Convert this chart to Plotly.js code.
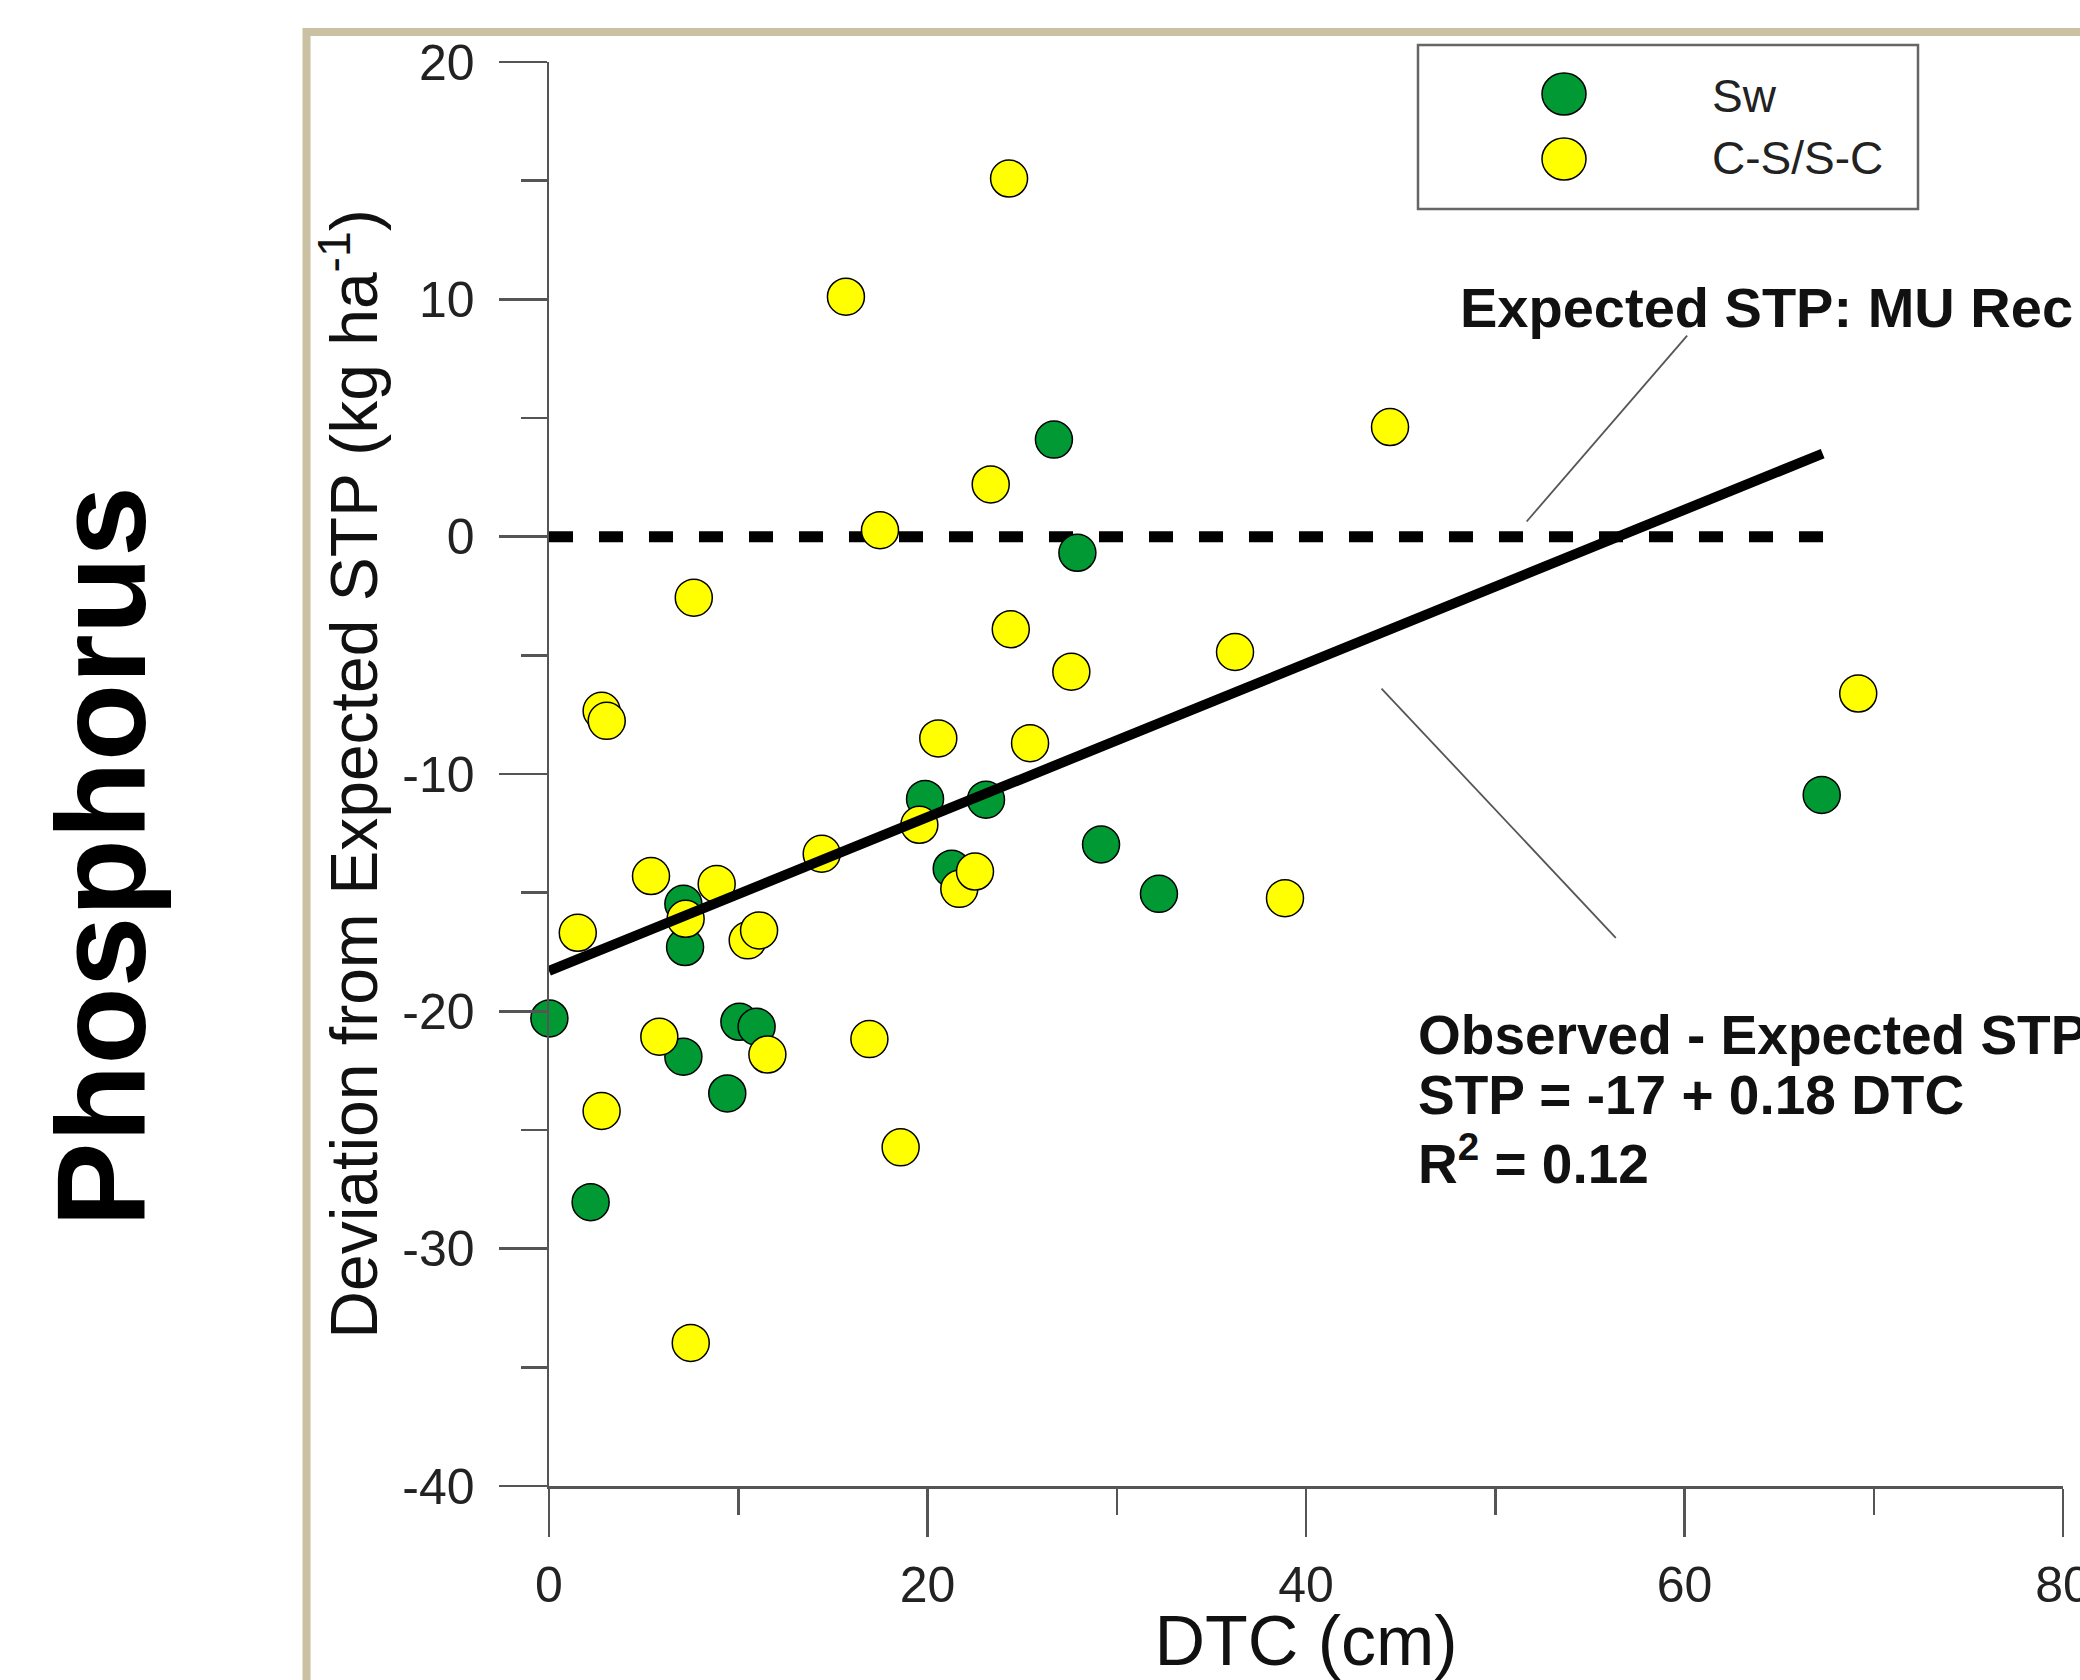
<!DOCTYPE html>
<html>
<head>
<meta charset="utf-8">
<script src="https://cdn.plot.ly/plotly-3.0.1.min.js"></script>
<style>
html,body{margin:0;padding:0;background:#ffffff;}
#chart{width:2080px;height:1680px;}
</style>
</head>
<body>
<div id="chart"></div>
<script>
// ---- data ----
const seriesNames = ['Sw', 'C-S/S-C'];

const swDTC = [0.02, 2.20, 7.10, 7.19, 7.10, 9.42, 10.06, 10.97, 19.87, 21.28, 23.09, 26.68, 27.92, 29.17, 32.23, 67.25];
const swDev = [-20.30, -28.04, -15.47, -17.29, -21.91, -23.46, -20.44, -20.65, -11.05, -13.99, -11.08, 4.09, -0.68, -12.97, -15.05, -10.88];

const csDTC = [1.52, 2.78, 3.05, 2.78, 5.39, 5.83, 7.22, 7.65, 7.49, 8.86, 10.50, 11.10, 11.54, 14.41, 15.69, 16.93, 17.49, 18.58, 19.57, 20.57, 21.68, 22.51, 23.34, 24.31, 24.40, 25.42, 27.60, 36.25, 38.89, 44.44, 69.18];
const csDev = [-16.69, -7.34, -7.76, -24.20, -14.30, -21.07, -16.10, -2.57, -33.97, -14.63, -17.01, -16.59, -21.82, -13.36, 10.11, -21.17, 0.27, -25.73, -12.14, -8.50, -14.84, -14.11, 2.20, 15.09, -3.90, -8.70, -5.69, -4.86, -15.23, 4.62, -6.61];

const fitDTC = [0, 67.3];
const fitDev = [-18.3, 3.5];

const expectedDTC = [0, 67.5];
const expectedDev = [0, 0];

const xTickVals = [0, 20, 40, 60, 80];
const xTickText = ['0', '20', '40', '60', '80'];
const yTickVals = [-40, -30, -20, -10, 0, 10, 20];
const yTickText = ['-40', '-30', '-20', '-10', '0', '10', '20'];

// ---- styling ----
const FONT = 'Liberation Sans, Arial, Helvetica, sans-serif';
const GREEN = '#009933';
const YELLOW = '#ffff00';
const AXIS = '#555555';

const FW = 2080, FH = 1680;
const ML = 549, MR = 17, MT = 62, MB = 194;
const PW = FW - ML - MR, PH = FH - MT - MB;
const px = v => (v - ML) / PW;          // pixel x -> paper x
const py = v => (FH - MB - v) / PH;     // pixel y -> paper y

const traces = [
  {
    x: expectedDTC, y: expectedDev, type: 'scatter', mode: 'lines',
    line: {color: '#000000', width: 11, dash: '24px,26px'},
    hoverinfo: 'skip', showlegend: false, cliponaxis: false
  },
  {
    x: swDTC, y: swDev, type: 'scatter', mode: 'markers', name: seriesNames[0],
    marker: {color: GREEN, size: 37, line: {color: '#000000', width: 1.5}},
    showlegend: false, cliponaxis: false
  },
  {
    x: csDTC, y: csDev, type: 'scatter', mode: 'markers', name: seriesNames[1],
    marker: {color: YELLOW, size: 37, line: {color: '#000000', width: 1.5}},
    showlegend: false, cliponaxis: false
  },
  {
    x: fitDTC, y: fitDev, type: 'scatter', mode: 'lines',
    line: {color: '#000000', width: 10},
    hoverinfo: 'skip', showlegend: false, cliponaxis: false
  }
];

const legendRows = [
  {name: seriesNames[0], color: GREEN, cy: 94, ty: 96},
  {name: seriesNames[1], color: YELLOW, cy: 159, ty: 158}
];

const shapes = [
  // tan frame around the figure
  {type: 'rect', xref: 'paper', yref: 'paper', x0: px(306.5), y0: py(32), x1: px(2300), y1: py(1900),
   line: {color: '#c9c1a1', width: 8}, fillcolor: 'rgba(0,0,0,0)', layer: 'below'},
  // legend box
  {type: 'rect', xref: 'paper', yref: 'paper', x0: px(1418), y0: py(45), x1: px(1918), y1: py(209),
   line: {color: '#666666', width: 2.5}, fillcolor: 'rgba(0,0,0,0)'},
  // leader lines
  {type: 'line', xref: 'x', yref: 'y', x0: 51.66, y0: 0.64, x1: 60.14, y1: 8.47,
   line: {color: '#555555', width: 1.8}},
  {type: 'line', xref: 'x', yref: 'y', x0: 43.99, y0: -6.40, x1: 56.37, y1: -16.90,
   line: {color: '#555555', width: 1.8}}
];
legendRows.forEach(r => {
  shapes.push({
    type: 'circle', xref: 'paper', yref: 'paper', xsizemode: 'pixel', ysizemode: 'pixel',
    xanchor: px(1564), yanchor: py(r.cy), x0: -22, x1: 22, y0: -21, y1: 21,
    fillcolor: r.color, line: {color: '#000000', width: 1.5}
  });
});

const annotations = [
  {text: '<b>Phosphorus</b>', xref: 'paper', yref: 'paper', x: px(101), y: py(856),
   xanchor: 'center', yanchor: 'middle', textangle: -90, showarrow: false,
   font: {family: FONT, size: 127, color: '#000000'}},
  {text: '<b>Expected STP: MU Rec</b>', xref: 'paper', yref: 'paper', x: px(1458), y: py(307),
   xanchor: 'left', yanchor: 'middle', showarrow: false,
   font: {family: FONT, size: 56, color: '#111111'}},
  {text: '<b>Observed - Expected STP</b>', xref: 'paper', yref: 'paper', x: px(1416), y: py(1035),
   xanchor: 'left', yanchor: 'middle', showarrow: false,
   font: {family: FONT, size: 55, color: '#111111'}},
  {text: '<b>STP = -17 + 0.18 DTC</b>', xref: 'paper', yref: 'paper', x: px(1416), y: py(1095),
   xanchor: 'left', yanchor: 'middle', showarrow: false,
   font: {family: FONT, size: 55, color: '#111111'}},
  {text: '<b>R<sup>2</sup> = 0.12</b>', xref: 'paper', yref: 'paper', x: px(1416), y: py(1160),
   xanchor: 'left', yanchor: 'middle', showarrow: false,
   font: {family: FONT, size: 55, color: '#111111'}}
];
legendRows.forEach(r => {
  annotations.push({
    text: r.name, xref: 'paper', yref: 'paper', x: px(1710), y: py(r.ty),
    xanchor: 'left', yanchor: 'middle', showarrow: false,
    font: {family: FONT, size: 46, color: '#222222'}
  });
});

const layout = {
  width: FW, height: FH,
  margin: {l: ML, r: MR, t: MT, b: MB, pad: 0},
  paper_bgcolor: '#ffffff', plot_bgcolor: '#ffffff',
  showlegend: false,
  font: {family: FONT, color: '#222222'},
  xaxis: {
    range: [0, 80], showgrid: false, zeroline: false,
    showline: true, linecolor: AXIS, linewidth: 2.5,
    ticks: 'outside', ticklen: 48, tickwidth: 2.5, tickcolor: AXIS,
    tickmode: 'array', tickvals: xTickVals, ticktext: xTickText,
    tickfont: {family: FONT, size: 50, color: '#222222'},
    ticklabelstandoff: 5, ticklabeloverflow: 'allow',
    minor: {tickmode: 'linear', tick0: 0, dtick: 10, ticks: 'outside', ticklen: 26, tickwidth: 2.5, tickcolor: AXIS, showgrid: false},
    title: {text: 'DTC (cm)', font: {family: FONT, size: 70, color: '#111111'}, standoff: 23}
  },
  yaxis: {
    range: [-40, 20], showgrid: false, zeroline: false,
    showline: true, linecolor: AXIS, linewidth: 2.5,
    ticks: 'outside', ticklen: 48, tickwidth: 2.5, tickcolor: AXIS,
    tickmode: 'array', tickvals: yTickVals, ticktext: yTickText,
    tickfont: {family: FONT, size: 50, color: '#222222'},
    ticklabelstandoff: 14, ticklabeloverflow: 'allow',
    minor: {tickmode: 'linear', tick0: 0, dtick: 5, ticks: 'outside', ticklen: 26, tickwidth: 2.5, tickcolor: AXIS, showgrid: false},
    title: {text: 'Deviation from Expected STP (kg ha<sup>-1</sup>)', font: {family: FONT, size: 66, color: '#111111'}, standoff: 3}
  },
  shapes: shapes,
  annotations: annotations
};

Plotly.newPlot('chart', traces, layout, {displayModeBar: false, staticPlot: true});
</script>
</body>
</html>
